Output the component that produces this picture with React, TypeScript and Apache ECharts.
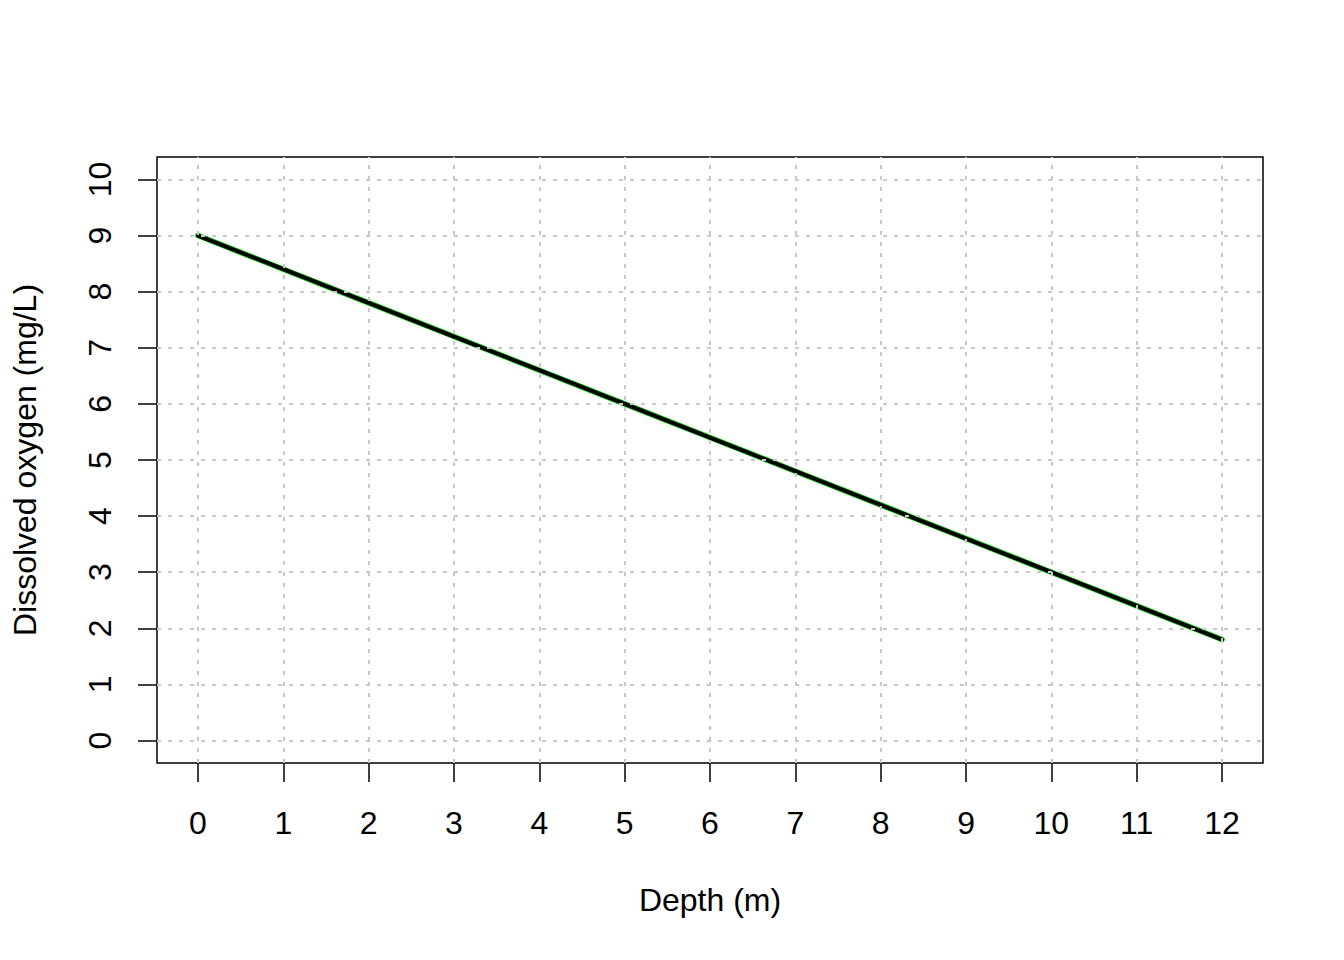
import React, { useEffect, useRef } from "react";
import * as echarts from "echarts";

const depth = [0, 1, 2, 3, 4, 5, 6, 7, 8, 9, 10, 11, 12];
const oxygen = [9, 8.4, 7.8, 7.2, 6.6, 6.0, 5.4, 4.8, 4.2, 3.6, 3.0, 2.4, 1.8];
const xTicks = [0, 1, 2, 3, 4, 5, 6, 7, 8, 9, 10, 11, 12];
const yTicks = [0, 1, 2, 3, 4, 5, 6, 7, 8, 9, 10];

const FONT = "'Liberation Sans', Arial, Helvetica, sans-serif";

export default function App() {
  const ref = useRef<HTMLDivElement>(null);
  useEffect(() => {
    if (!ref.current) return;
    const chart = echarts.init(ref.current, null, { renderer: "svg" });
    const pts = depth.map((d, i) => [d, oxygen[i]]);
    const gridStyle = { color: "#c8c8c8", width: 2, type: [4, 7] as any };
    chart.setOption({
      animation: false,
      backgroundColor: "#ffffff",
      textStyle: { fontFamily: FONT },
      grid: {
        left: 157,
        right: 81,
        top: 157,
        bottom: 197,
        show: true,
        borderColor: "#000000",
        borderWidth: 1.5,
        backgroundColor: "transparent",
      },
      xAxis: {
        type: "value",
        position: "bottom",
        min: -0.48,
        max: 12.48,
        name: "Depth (m)",
        nameLocation: "middle",
        nameGap: 121,
        nameTextStyle: { fontSize: 32, color: "#000", fontFamily: FONT },
        axisLine: { show: false, onZero: false },
        splitLine: { show: false },
        axisTick: {
          show: true,
          inside: false,
          length: 19,
          customValues: xTicks,
          lineStyle: { color: "#000", width: 1.5 },
        },
        axisLabel: {
          show: true,
          customValues: xTicks,
          margin: 44,
          fontSize: 32,
          color: "#000",
          fontFamily: FONT,
        },
      },
      yAxis: {
        type: "value",
        position: "left",
        min: -0.4,
        max: 10.4,
        name: "Dissolved oxygen (mg/L)",
        nameLocation: "middle",
        nameGap: 116,
        nameRotate: 90,
        nameTextStyle: { fontSize: 32, color: "#000", fontFamily: FONT },
        axisLine: { show: false, onZero: false },
        splitLine: { show: false },
        axisTick: {
          show: true,
          inside: false,
          length: 19,
          customValues: yTicks,
          lineStyle: { color: "#000", width: 1.5 },
        },
        axisLabel: {
          show: true,
          customValues: yTicks,
          rotate: 90,
          margin: 41,
          fontSize: 32,
          color: "#000",
          fontFamily: FONT,
        },
      },
      series: [
        {
          type: "line",
          data: [],
          z: 1,
          silent: true,
          markLine: {
            silent: true,
            symbol: ["none", "none"],
            label: { show: false },
            emphasis: { disabled: true },
            lineStyle: gridStyle,
            data: [
              ...xTicks.map((v) => ({ xAxis: v })),
              ...yTicks.map((v) => ({ yAxis: v })),
            ],
          },
        },
        {
          type: "line",
          data: pts,
          z: 2,
          symbol: "none",
          silent: true,
          lineStyle: { color: "#00cc00", width: 5.5, cap: "round" },
        },
        {
          type: "line",
          data: pts,
          z: 3,
          symbol: "none",
          silent: true,
          lineStyle: { color: "#000000", width: 4, cap: "round" },
        },
      ],
    });
    return () => chart.dispose();
  }, []);
  return (
    <div
      ref={ref}
      style={{ position: "fixed", left: 0, top: 0, width: 1344, height: 960, background: "#fff" }}
    />
  );
}
